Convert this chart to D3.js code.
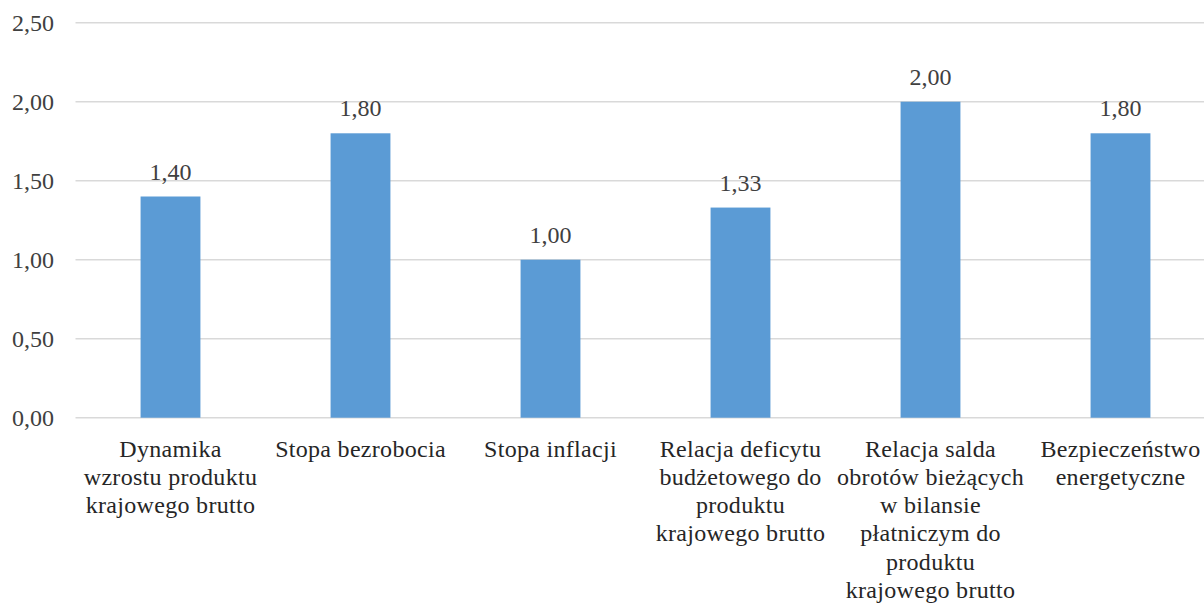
<!DOCTYPE html>
<html>
<head>
<meta charset="utf-8">
<script src="https://cdn.jsdelivr.net/npm/d3@7"></script>
</head>
<body style="margin:0;padding:0;background:#fff">
<svg id="chart" width="1204" height="603" style="display:block"></svg>
<script>
const categories = [
  "Dynamika wzrostu produktu krajowego brutto",
  "Stopa bezrobocia",
  "Stopa inflacji",
  "Relacja deficytu budżetowego do produktu krajowego brutto",
  "Relacja salda obrotów bieżących w bilansie płatniczym do produktu krajowego brutto",
  "Bezpieczeństwo energetyczne"
];
const categoryLines = [
  ["Dynamika", "wzrostu produktu", "krajowego brutto"],
  ["Stopa bezrobocia"],
  ["Stopa inflacji"],
  ["Relacja deficytu", "budżetowego do", "produktu", "krajowego brutto"],
  ["Relacja salda", "obrotów bieżących", "w bilansie", "płatniczym do", "produktu", "krajowego brutto"],
  ["Bezpieczeństwo", "energetyczne"]
];
const values = [1.40, 1.80, 1.00, 1.33, 2.00, 1.80];
const yTicks = [0, 0.5, 1.0, 1.5, 2.0, 2.5];

const FONT = '"Liberation Serif"';
const fmt = v => v.toFixed(2).replace(".", ",");

const svg = d3.select("#chart");
const plot = { left: 75.5, right: 1215.5, top: 22.7, bottom: 417.7 };

const x = d3.scaleBand().domain(categories).range([plot.left, plot.right]).paddingInner(0.685).paddingOuter(0.3425);
const y = d3.scaleLinear().domain([0, 2.5]).range([plot.bottom, plot.top]);

// gridlines
svg.append("g").selectAll("line").data(yTicks).join("line")
  .attr("x1", plot.left).attr("x2", plot.right)
  .attr("y1", d => y(d)).attr("y2", d => y(d))
  .attr("stroke", "#d9d9d9").attr("stroke-width", 1.5);

// y axis labels
const yAxis = d3.axisLeft(y).tickValues(yTicks).tickFormat(fmt).tickSize(0).tickPadding(0);
const ya = svg.append("g").attr("transform", `translate(54,0)`).call(yAxis);
ya.select(".domain").remove();
ya.attr("font-family", null).attr("font-size", null);
ya.selectAll("text").style("font-family", FONT).style("font-size", "24px").attr("fill", "#404040")
  .attr("dy", "0.34em");

// bars
svg.append("g").selectAll("rect").data(values).join("rect")
  .attr("x", (d, i) => x(categories[i]))
  .attr("width", x.bandwidth())
  .attr("y", d => y(d))
  .attr("height", d => y(0) - y(d))
  .attr("fill", "#5b9bd5");

// value labels
svg.append("g").selectAll("text").data(values).join("text")
  .attr("x", (d, i) => x(categories[i]) + x.bandwidth() / 2)
  .attr("y", d => y(d) - 17)
  .attr("text-anchor", "middle")
  .style("font-family", FONT).style("font-size", "24px")
  .attr("fill", "#404040")
  .text(fmt);

// x axis category labels
const xa = svg.append("g");
categories.forEach((c, i) => {
  const cx = x(c) + x.bandwidth() / 2;
  const t = xa.append("text")
    .attr("text-anchor", "middle")
    .style("font-family", FONT).style("font-size", "24px").style("letter-spacing", "0.3px")
    .attr("fill", "#262626");
  categoryLines[i].forEach((ln, k) => {
    t.append("tspan").attr("x", cx).attr("y", 456.5 + 28.3 * k).text(ln);
  });
});
</script>
</body>
</html>
